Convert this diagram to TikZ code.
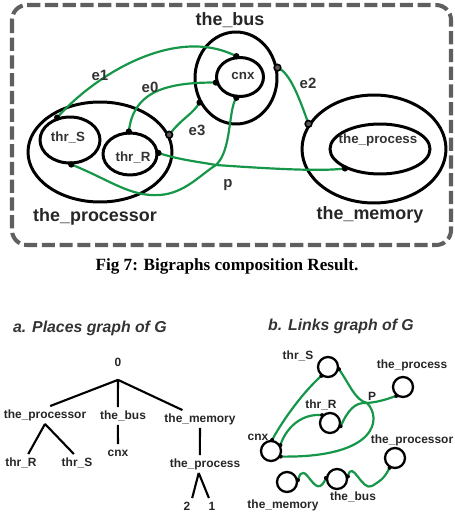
\documentclass[tikz,border=0pt]{standalone}
\usepackage{fontspec}
\setmainfont{Liberation Sans}
\newfontfamily\capfont{Liberation Serif}
\usetikzlibrary{shapes.geometric}
\definecolor{linkgreen}{RGB}{22,150,72}
\definecolor{framegray}{RGB}{95,95,95}
\begin{document}
\begin{tikzpicture}[x=0.02cm,y=-0.02cm,
  place/.style={draw,ellipse,line width=1.7pt,inner sep=0pt},
  site/.style={draw,circle,line width=1.3pt,inner sep=0pt,minimum size=0.4cm},
  link/.style={draw=linkgreen,line width=1.25pt},
  port/.style={circle,fill=black,inner sep=0pt,minimum size=3.6pt},
  ring/.style={circle,draw=black,fill=black!65,line width=0.9pt,inner sep=0pt,minimum size=3.8pt},
  dot/.style={circle,fill=black,inner sep=0pt,minimum size=2.3pt},
  bigl/.style={font=\fontsize{10.2}{12}\bfseries\selectfont,text=black!85},
  inl/.style={font=\fontsize{7.6}{9}\bfseries\selectfont,text=black!80},
  elab/.style={font=\fontsize{8.5}{10}\bfseries\selectfont,text=black!80},
  tl/.style={font=\fontsize{6.8}{8}\bfseries\selectfont,text=black!85,inner sep=1.5pt,text height=5.4pt,text depth=1.4pt},
  head/.style={font=\fontsize{9}{11}\bfseries\itshape\selectfont,text=black!80,anchor=west}]
  \useasboundingbox (0,0) rectangle (455,527);
  \draw[draw=framegray,line width=2.3pt,dash pattern=on 7.5pt off 2.6pt,rounded corners=8.5pt] (12,5) rectangle (451,245);
  \node[place,minimum width=1.64cm,minimum height=1.84cm] (bus) at (236,78) {};
  \node[place,minimum width=0.94cm,minimum height=0.78cm] (cnx) at (240,77) {};
  \node[place,minimum width=2.88cm,minimum height=2cm] (cpu) at (100,152) {};
  \node[place,minimum width=1.2cm,minimum height=0.92cm] (thrS) at (70,140) {};
  \node[place,minimum width=1.08cm,minimum height=0.84cm] (thrR) at (130,154) {};
  \node[place,minimum width=2.88cm,minimum height=2.16cm] (mem) at (374,149) {};
  \node[place,minimum width=2cm,minimum height=1cm] (procs) at (380,149) {};
  \coordinate (j) at (216,165);
  \draw[link] (thrS.120) .. controls (95,75) and (175,25) .. (cnx.100);
  \draw[link] (thrR.93) .. controls (133,95) and (160,82) .. (cnx.193);
  \draw[link] (bus.14) .. controls (290,72) and (300,100) .. (mem.159);
  \draw[link] (cpu.14) .. controls (182,118) and (192,115) .. (bus.214);
  \draw[link] (thrS.273) .. controls (110,180) and (130,197) .. (160,195) .. controls (185,193) and (200,175) .. (j);
  \draw[link] (thrR.2) .. controls (180,160) and (200,162) .. (j);
  \draw[link] (cnx.260) .. controls (228,110) and (232,150) .. (j);
  \draw[link] (j) .. controls (260,168) and (320,172) .. (procs.209);
  \foreach\p in {cnx.100,cnx.193,cnx.260,bus.214,thrS.120,thrS.273,thrR.93,thrR.2,procs.209}
    \node[port] at (\p) {};
  \foreach\p in {bus.14,mem.159,cpu.14}
    \node[ring] at (\p) {};
  \node[bigl] (lbus) at (230,20) {the\_bus};
  \node[bigl] (lcpu) at (95,217) {the\_processor};
  \node[bigl] (lmem) at (370,215) {the\_memory};
  \node[inl] (lcnx) at (243,76) {cnx};
  \node[inl] (lthrS) at (68,137) {thr\_S};
  \node[inl] (lthrR) at (133,157) {thr\_R};
  \node[inl] (lprocs) at (378,140) {the\_process};
  \node[elab] (le1) at (100,75) {e1};
  \node[elab] (le0) at (150,87) {e0};
  \node[elab] (le2) at (308,83) {e2};
  \node[elab] (le3) at (197,130) {e3};
  \node[elab] (lp) at (228,185) {p};
  \node[font={\capfont\fontsize{9.75}{11}\bfseries\selectfont}] (cap) at (227,266) {Fig 7: Bigraphs composition Result.};
  \node[head] (ha) at (7,328) {a. Places graph of G};
  \node[tl,inner ysep=6pt] (a0) at (118,363) {0};
  \node[tl] (aproc) at (45,415) {the\_processor};
  \node[tl] (abus) at (123,416) {the\_bus};
  \node[tl] (amem) at (200,419) {the\_memory};
  \node[tl] (athrR) at (21,463) {thr\_R};
  \node[tl] (athrS) at (77,463) {thr\_S};
  \node[tl] (acnx) at (118,453) {cnx};
  \node[tl] (aprocs) at (205,464) {the\_process};
  \node[tl] (atwo) at (187,507) {2};
  \node[tl] (aone) at (212,507) {1};
  \draw[line width=1.2pt] (a0.south) -- (aproc.60) (a0.south) -- (abus.120) (a0.south) -- (amem.153);
  \draw[line width=1.2pt] (aproc.south) -- (athrR.51) (aproc.south) -- (athrS.109);
  \draw[line width=1.2pt] (abus.240) -- (acnx.north);
  \draw[line width=1.2pt] (amem.south) -- (aprocs.120);
  \draw[line width=1.2pt] (aprocs.235) -- (atwo.60) (aprocs.235) -- (aone.109);
  \node[head] (hb) at (262,326) {b. Links graph of G};
  \node[site] (bthrS) at (328,367) {};
  \node[site] (bthrR) at (330,423) {};
  \node[site] (bcnx) at (271,451) {};
  \node[site] (bprocs) at (403,387) {};
  \node[site] (bcpu) at (395,458) {};
  \node[site] (bbus) at (337,479) {};
  \node[site] (bmem) at (287,482) {};
  \coordinate (pj) at (367,403);
  \draw[link] (bthrS.233) .. controls (300,395) and (280,425) .. (bcnx.84);
  \draw[link] (bthrS.349) .. controls (350,385) and (355,400) .. (pj);
  \draw[link] (pj) .. controls (380,402) and (390,398) .. (bprocs.233);
  \draw[link] (bthrR.343) .. controls (348,410) and (355,402) .. (pj);
  \draw[link] (pj) .. controls (382,418) and (378,458) .. (bcnx.330);
  \draw[link] (bthrR.135) .. controls (300,413) and (285,430) .. (bcnx.32);
  \draw[link] (bmem.10) .. controls (305,455) and (315,505) .. (bbus.175);
  \draw[link] (bbus.13) .. controls (352,458) and (362,492) .. (372,486) .. controls (382,480) and (385,477) .. (bcpu.241);
  \foreach\p in {bthrS.233,bthrS.349,bthrR.343,bthrR.135,bcnx.84,bcnx.330,bcnx.32,bprocs.233,bmem.10,bbus.175,bbus.13,bcpu.241}
    \node[dot] at (\p) {};
  \node[tl] (lbthrS) at (298,356) {thr\_S};
  \node[tl] (lbprocs) at (412,365) {the\_process};
  \node[tl] (lbthrR) at (321,405) {thr\_R};
  \node[tl] (lbcnx) at (258,437) {cnx};
  \node[tl] (lbcpu) at (412,440) {the\_processor};
  \node[tl] (lbbus) at (353,497) {the\_bus};
  \node[tl] (lbmem) at (283,505) {the\_memory};
  \node[tl] (lbp) at (372,397) {P};
\end{tikzpicture}
\end{document}
